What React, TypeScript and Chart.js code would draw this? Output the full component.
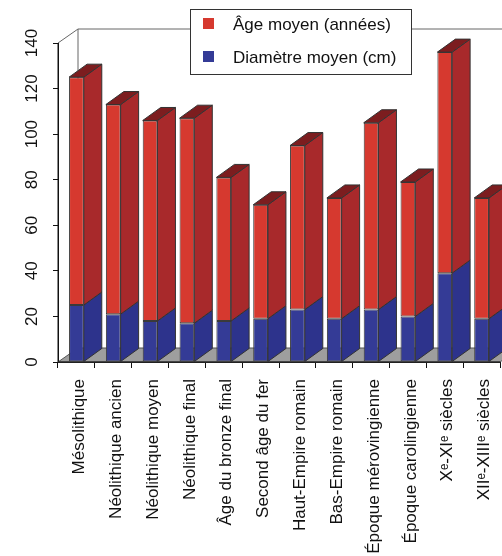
import React, { useEffect, useRef } from "react";
import { Chart, registerables } from "chart.js";

Chart.register(...registerables);

const categories = [
  "Mésolithique",
  "Néolithique ancien",
  "Néolithique moyen",
  "Néolithique final",
  "Âge du bronze final",
  "Second âge du fer",
  "Haut-Empire romain",
  "Bas-Empire romain",
  "Époque mérovingienne",
  "Époque carolingienne",
  "Xᵉ-XIᵉ siècles",
  "XIIᵉ-XIIIᵉ siècles",
];

const diametreMoyen = [25, 21, 18, 17, 18, 19, 23, 19, 23, 20, 39, 19];
const ageMoyen = [100, 92, 88, 90, 63, 50, 72, 53, 82, 59, 97, 53];

const seriesLabels = ["Âge moyen (années)", "Diamètre moyen (cm)"];
const yTicks = [0, 20, 40, 60, 80, 100, 120, 140];

const FONT = "'Liberation Sans', Arial, Helvetica, sans-serif";
const FRONT = ["#343b96", "#d6392f"];
const SIDE = ["#2d338c", "#a8292b"];
const TOP = "#7c1d1f";
const BAR = { dx: 18, dy: -13 };
const WALL = { dx: 20, dy: -14 };

const threeD = {
  id: "threeD",
  beforeDatasetsDraw(chart: any) {
    const { ctx, chartArea } = chart;
    const { left, right, top, bottom } = chartArea;
    ctx.save();
    ctx.lineWidth = 1;
    // floor
    ctx.beginPath();
    ctx.moveTo(left, bottom);
    ctx.lineTo(right, bottom);
    ctx.lineTo(right + WALL.dx, bottom + WALL.dy);
    ctx.lineTo(left + WALL.dx, bottom + WALL.dy);
    ctx.closePath();
    ctx.fillStyle = "#9e9e9e";
    ctx.fill();
    ctx.strokeStyle = "#555";
    ctx.stroke();
    // back wall
    ctx.beginPath();
    ctx.moveTo(left, top);
    ctx.lineTo(left + WALL.dx, top + WALL.dy);
    ctx.lineTo(chart.width + 20, top + WALL.dy);
    ctx.moveTo(left + WALL.dx, top + WALL.dy);
    ctx.lineTo(left + WALL.dx, bottom + WALL.dy);
    ctx.strokeStyle = "#666";
    ctx.stroke();
    // axis lines
    ctx.beginPath();
    ctx.moveTo(left, top);
    ctx.lineTo(left, bottom);
    ctx.lineTo(right, bottom);
    ctx.strokeStyle = "#111";
    ctx.stroke();
    ctx.restore();
  },
  afterDatasetsDraw(chart: any) {
    const { ctx } = chart;
    const n = chart.data.datasets.length;
    ctx.save();
    ctx.lineWidth = 1;
    ctx.strokeStyle = "#333";
    for (let di = 0; di < n; di++) {
      const meta = chart.getDatasetMeta(di);
      meta.data.forEach((el: any) => {
        const { x, y, base, width } = el.getProps(["x", "y", "base", "width"], true);
        const l = x - width / 2;
        const r = x + width / 2;
        const t = Math.min(y, base);
        const b = Math.max(y, base);
        ctx.beginPath();
        ctx.moveTo(r, t);
        ctx.lineTo(r + BAR.dx, t + BAR.dy);
        ctx.lineTo(r + BAR.dx, b + BAR.dy);
        ctx.lineTo(r, b);
        ctx.closePath();
        ctx.fillStyle = SIDE[di];
        ctx.fill();
        ctx.stroke();
        if (di === n - 1) {
          ctx.beginPath();
          ctx.moveTo(l, t);
          ctx.lineTo(r, t);
          ctx.lineTo(r + BAR.dx, t + BAR.dy);
          ctx.lineTo(l + BAR.dx, t + BAR.dy);
          ctx.closePath();
          ctx.fillStyle = TOP;
          ctx.fill();
          ctx.stroke();
        }
      });
    }
    ctx.restore();
  },
  afterDraw(chart: any) {
    const { ctx } = chart;
    ctx.save();
    const bx = 190.5, by = 9.5, bw = 221, bh = 65;
    ctx.fillStyle = "#fff";
    ctx.fillRect(bx, by, bw, bh);
    ctx.strokeStyle = "#333";
    ctx.lineWidth = 1;
    ctx.strokeRect(bx, by, bw, bh);
    const rows = [
      { label: chart.data.datasets[1].label, color: FRONT[1], y: 24 },
      { label: chart.data.datasets[0].label, color: FRONT[0], y: 57 },
    ];
    ctx.font = `17px ${FONT}`;
    ctx.textBaseline = "middle";
    ctx.textAlign = "left";
    rows.forEach((row) => {
      ctx.fillStyle = row.color;
      ctx.fillRect(203, row.y - 6, 11, 11);
      ctx.fillStyle = "#111";
      ctx.fillText(row.label, 233, row.y + 1);
    });
    ctx.restore();
  },
};

export default function App() {
  const ref = useRef<HTMLCanvasElement>(null);
  useEffect(() => {
    if (!ref.current) return;
    const chart = new Chart(ref.current, {
      type: "bar",
      data: {
        labels: categories,
        datasets: [
          {
            label: seriesLabels[1],
            data: diametreMoyen,
            backgroundColor: FRONT[0],
            borderColor: "#3a3a3a",
            borderWidth: 1,
            borderSkipped: false,
          },
          {
            label: seriesLabels[0],
            data: ageMoyen,
            backgroundColor: FRONT[1],
            borderColor: "#3a3a3a",
            borderWidth: 1,
            borderSkipped: false,
          },
        ],
      },
      options: {
        responsive: false,
        animation: false,
        devicePixelRatio: 1,
        categoryPercentage: 1,
        barPercentage: 0.4,
        layout: { padding: { top: 43, right: 2, left: 0, bottom: 0 } },
        plugins: { legend: { display: false }, tooltip: { enabled: false }, title: { display: false } },
        scales: {
          x: {
            stacked: true,
            grid: { display: true, drawOnChartArea: false, drawTicks: true, tickLength: 6, color: "#111" },
            border: { display: true, color: "#111" },
            ticks: {
              autoSkip: false,
              minRotation: 90,
              maxRotation: 90,
              padding: 11,
              labelOffset: 3,
              color: "#111",
              font: { family: FONT, size: 17 },
            },
            afterFit: (s: any) => {
              s.height = 194;
              s.paddingLeft = 0;
              s.paddingRight = 0;
            },
          },
          y: {
            stacked: true,
            min: 0,
            max: 140,
            afterBuildTicks: (s: any) => {
              s.ticks = yTicks.map((v) => ({ value: v }));
            },
            grid: { display: true, drawOnChartArea: false, drawTicks: true, tickLength: 5, color: "#111" },
            border: { display: true, color: "#111" },
            ticks: {
              minRotation: 90,
              maxRotation: 90,
              crossAlign: "center",
              padding: 7,
              color: "#111",
              font: { family: FONT, size: 17 },
            },
            afterFit: (s: any) => {
              s.width = 58;
              s.paddingTop = 0;
              s.paddingBottom = 0;
            },
          },
        },
      },
      plugins: [threeD],
    });
    return () => chart.destroy();
  }, []);
  return (
    <div style={{ position: "absolute", left: 0, top: 0, width: 502, height: 556, background: "#fff" }}>
      <canvas ref={ref} width={502} height={556} />
    </div>
  );
}
